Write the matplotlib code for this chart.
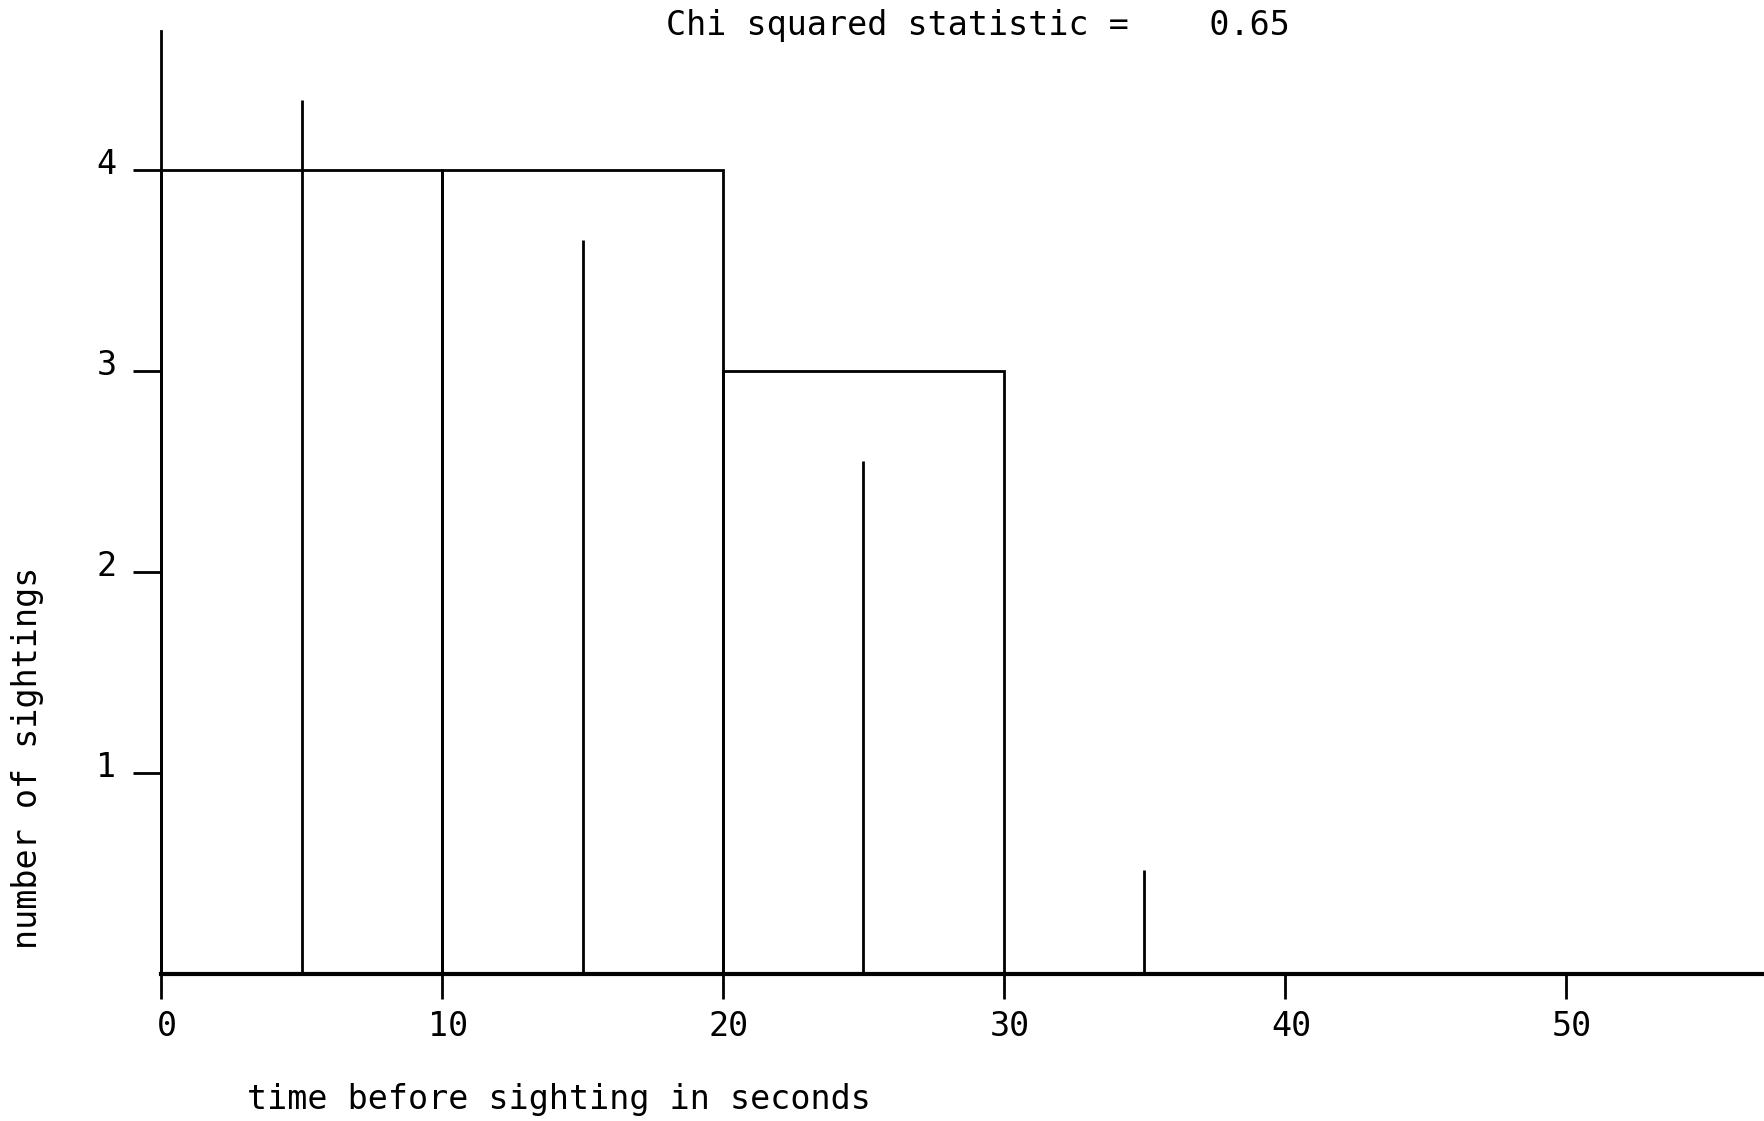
import matplotlib.pyplot as plt
import matplotlib.transforms as mtransforms
import numpy as np

# observed histogram (bin left edges, counts) and expected values at bin centres
bin_edges = [0, 10, 20, 30, 40, 50]
counts = [4, 4, 3, 0, 0, 0]
exp_x = [5, 15, 25, 35]
exp_y = [4.35, 3.65, 2.55, 0.52]
x_ticks = [0, 10, 20, 30, 40, 50]
y_ticks = [1, 2, 3, 4]
chi_sq = 0.65

plt.rcParams['font.family'] = ['DejaVu Sans Mono']
fs = 24
lw = 2.0

fig = plt.figure(figsize=(17.64, 11.21), dpi=100)
ax = fig.add_axes([0.0913, 0.1311, 0.9087, 0.841])

ax.bar(bin_edges, counts, width=10, align='edge', fill=False,
       edgecolor='black', linewidth=lw, clip_on=False)
ax.vlines(exp_x, 0, exp_y, colors='black', linewidth=lw)

ax.set_xlim(0, 57.05)
ax.set_ylim(0, 4.69)
ax.spines['top'].set_visible(False)
ax.spines['right'].set_visible(False)
ax.spines['left'].set_linewidth(lw)
ax.spines['bottom'].set_linewidth(3.0)

ax.set_xticks(x_ticks)
ax.set_yticks(y_ticks)
ax.tick_params(axis='x', direction='out', length=18, width=lw, pad=8, labelsize=fs)
ax.tick_params(axis='y', direction='out', length=20, width=lw, pad=12, labelsize=fs)

# labels sit a little right of the x ticks and above the y ticks
dx = mtransforms.ScaledTranslation(6 / 100, 0, fig.dpi_scale_trans)
for lab in ax.get_xticklabels():
    lab.set_transform(lab.get_transform() + dx)
dy = mtransforms.ScaledTranslation(0, 9 / 100, fig.dpi_scale_trans)
for lab in ax.get_yticklabels():
    lab.set_transform(lab.get_transform() + dy)

fig.text(978 / 1764, 1 - 25 / 1121, 'Chi squared statistic =    %.2f' % chi_sq,
         ha='center', va='center', fontsize=fs)
fig.text(559 / 1764, 1 - 1099 / 1121, 'time before sighting in seconds',
         ha='center', va='center', fontsize=fs)
fig.text(28 / 1764, 1 - 758 / 1121, 'number of sightings', rotation=90,
         ha='center', va='center', fontsize=fs)

fig.savefig('out.png', dpi=100)
